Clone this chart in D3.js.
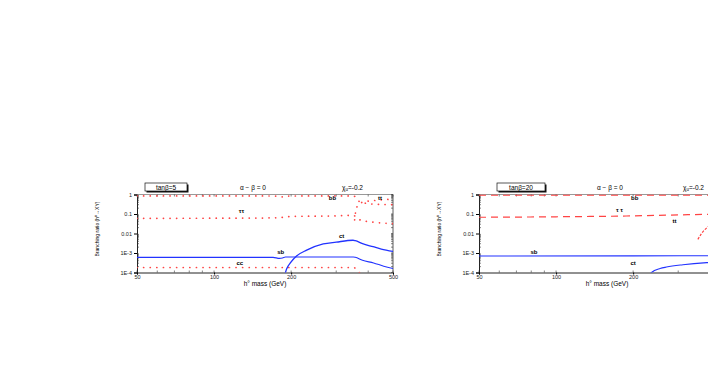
<!DOCTYPE html>
<html>
<head>
<meta charset="utf-8">
<script src="https://cdn.jsdelivr.net/npm/d3@7"></script>
<style>
body { margin: 0; background: #fff; }
svg { display: block; font-family: "Liberation Sans", Arial, sans-serif; }
</style>
</head>
<body>
<script>
// tick labels
var xTicks = [50, 100, 200, 500];
var xMinor = [60, 70, 80, 90, 300, 400];
var yTicks = [1, 0.1, 0.01, 1e-3, 1e-4];
var yTickLabels = ["1", "0.1", "0.01", "1E-3", "1E-4"];

// tan beta = 5 (masses in GeV, branching ratios)
var bb5M  = [50, 100, 150, 175, 185, 195, 250, 300, 350, 354, 360, 368, 385, 420, 500];
var bb5   = [0.85, 0.85, 0.85, 0.82, 0.75, 0.83, 0.85, 0.85, 0.85, 0.8, 0.6, 0.45, 0.37, 0.32, 0.3];
var tt5M  = [354, 358, 366, 385, 430, 500];
var tt5   = [0.05, 0.15, 0.3, 0.42, 0.5, 0.58];
var tau5M = [50, 150, 180, 200, 300, 350, 354, 362, 375, 420, 500];
var tau5  = [0.06, 0.062, 0.065, 0.075, 0.08, 0.085, 0.08, 0.06, 0.048, 0.038, 0.032];
var cc5M  = [50, 200, 350, 355, 362, 372];
var cc5   = [1.8e-4, 1.8e-4, 1.8e-4, 1.7e-4, 1.3e-4, 0.9e-4];
var sb5M  = [50, 170, 180, 185, 190, 350, 356, 380, 420, 460, 500];
var sb5   = [6e-4, 6e-4, 5.3e-4, 5.5e-4, 6.2e-4, 6.2e-4, 6e-4, 4.2e-4, 3.1e-4, 2.1e-4, 1.6e-4];
var ct5M  = [188, 192, 200, 210, 230, 267, 300, 349, 356, 380, 418, 450, 500];
var ct5   = [6e-5, 1.5e-4, 3.5e-4, 7e-4, 1.4e-3, 2.9e-3, 3.6e-3, 4.5e-3, 4.3e-3, 3e-3, 2.1e-3, 1.6e-3, 1.2e-3];

// tan beta = 20
var bb20M  = [50, 200, 500];
var bb20   = [0.93, 0.93, 0.93];
var tau20M = [50, 100, 200, 300, 400, 500];
var tau20  = [0.068, 0.072, 0.08, 0.09, 0.096, 0.1];
var tt20M  = [358, 370, 392, 420, 500];
var tt20   = [5e-3, 1e-2, 0.022, 0.04, 0.07];
var sb20M  = [50, 200, 500];
var sb20   = [7e-4, 7.1e-4, 7.3e-4];
var ct20M  = [230, 236, 255, 270, 313, 388, 500];
var ct20   = [7e-5, 1e-4, 1.6e-4, 1.9e-4, 2.5e-4, 3.2e-4, 3.6e-4];

var width = 708, height = 382;
var svg = d3.select("body").append("svg")
	.attr("width", width)
	.attr("height", height);

var red = "#ff4444", blue = "#2233ff";

function zip(m, v) { return m.map(function (d, i) { return {m: d, v: v[i]}; }); }

function drawPanel(p) {
	var x = d3.scaleLog().domain([50, 500]).range([p.left, p.left + 256]);
	var y = d3.scaleLog().domain([1e-4, 1]).range([272.5, 194.5]);
	var g = svg.append("g");

	g.append("clipPath").attr("id", p.id)
		.append("rect")
		.attr("x", x(50)).attr("y", y(1))
		.attr("width", x(500) - x(50)).attr("height", y(1e-4) - y(1));

	// frame
	g.append("line").attr("x1", x(50)).attr("x2", x(500)).attr("y1", y(1)).attr("y2", y(1))
		.attr("stroke", "#999").attr("stroke-width", 1.2);
	g.append("line").attr("x1", x(500)).attr("x2", x(500)).attr("y1", y(1)).attr("y2", y(1e-4))
		.attr("stroke", "#333").attr("stroke-width", 0.8);

	var leftAxis = d3.axisLeft(y).tickValues(yTicks).tickSize(3).tickPadding(2)
		.tickFormat(function (d, i) { return yTickLabels[i]; });
	g.append("g").attr("transform", "translate(" + x(50) + ",0)").call(leftAxis)
		.call(function (a) {
			a.select(".domain").attr("stroke", "#222");
			a.selectAll("text").attr("font-size", "5.5px").attr("fill", "#222");
		});

	// only label ticks that fall inside the window
	var shown = xTicks.filter(function (d) { return x(d) < width - 4; });
	var bottomAxis = d3.axisBottom(x).tickValues(shown).tickSize(2).tickPadding(1).tickFormat(d3.format("d"));
	g.append("g").attr("transform", "translate(0," + y(1e-4) + ")").call(bottomAxis)
		.call(function (a) {
			a.select(".domain").attr("stroke", "#222");
			a.selectAll("text").attr("font-size", "5.5px").attr("fill", "#222");
		});

	// minor ticks, inside the frame
	var yMinor = [];
	[1e-4, 1e-3, 1e-2, 1e-1].forEach(function (b) {
		for (var k = 2; k < 10; k++) yMinor.push(b * k);
	});
	g.selectAll(".ymin").data(yMinor).enter().append("line")
		.attr("x1", x(50)).attr("x2", x(50) + 2)
		.attr("y1", function (d) { return y(d); }).attr("y2", function (d) { return y(d); })
		.attr("stroke", "#333").attr("stroke-width", 0.6);
	g.selectAll(".ymin2").data(yMinor.concat(yTicks)).enter().append("line")
		.attr("x1", x(500)).attr("x2", x(500) - 2)
		.attr("y1", function (d) { return y(d); }).attr("y2", function (d) { return y(d); })
		.attr("stroke", "#333").attr("stroke-width", 0.6);
	g.selectAll(".xmin").data(xMinor.concat(xTicks)).enter().append("line")
		.attr("x1", function (d) { return x(d); }).attr("x2", function (d) { return x(d); })
		.attr("y1", y(1e-4)).attr("y2", y(1e-4) - 2)
		.attr("stroke", "#333").attr("stroke-width", 0.6);
	g.selectAll(".xmin2").data(xMinor.concat(xTicks)).enter().append("line")
		.attr("x1", function (d) { return x(d); }).attr("x2", function (d) { return x(d); })
		.attr("y1", y(1)).attr("y2", y(1) + 2)
		.attr("stroke", "#333").attr("stroke-width", 0.6);

	var line = d3.line()
		.x(function (d) { return x(d.m); })
		.y(function (d) { return y(d.v); })
		.curve(d3.curveMonotoneX);

	var curves = g.append("g").attr("clip-path", "url(#" + p.id + ")");
	p.series.forEach(function (s) {
		curves.append("path")
			.datum(zip(s.m, s.v))
			.attr("d", line)
			.attr("fill", "none")
			.attr("stroke", s.color)
			.attr("stroke-width", s.w || 1)
			.attr("stroke-linecap", s.dots ? "round" : "butt")
			.attr("stroke-dasharray", s.dash || null);
	});

	// curve labels
	p.labels.forEach(function (l) {
		g.append("text")
			.attr("x", x(l.m)).attr("y", y(l.v))
			.attr("font-size", "6px").attr("font-weight", "bold")
			.attr("text-anchor", "middle")
			.text(l.t);
	});

	// header: tan beta box, alpha - beta, chi_u
	var bx = x(50) + p.boxDx, bw = p.boxW;
	g.append("rect").attr("x", bx + 1.5).attr("y", 184.5).attr("width", bw).attr("height", 8).attr("fill", "#111");
	g.append("rect").attr("x", bx).attr("y", 183).attr("width", bw).attr("height", 8)
		.attr("fill", "#fff").attr("stroke", "#111").attr("stroke-width", 0.7);
	g.append("text").attr("x", bx + bw / 2).attr("y", 189.6).attr("text-anchor", "middle")
		.attr("font-size", "6.5px").text(p.tan);
	g.append("text").attr("x", x(50) + p.abDx).attr("y", 189.5).attr("text-anchor", "middle")
		.attr("font-size", "6.5px").text("\u03b1 \u2212 \u03b2 = 0");
	var chi = g.append("text").attr("x", x(50) + p.chiDx).attr("y", 189.5).attr("font-size", "6.5px");
	chi.append("tspan").text("\u03c7");
	chi.append("tspan").attr("font-size", "4.5px").attr("dy", 1.5).text("u");
	chi.append("tspan").attr("dy", -1.5).text("=-0.2");

	// axis titles
	g.append("text").attr("x", (x(50) + x(500)) / 2).attr("y", 286).attr("text-anchor", "middle")
		.attr("font-size", "6.5px").text("h\u00b0 mass (GeV)");
	g.append("text").attr("transform", "translate(" + (x(50) - 38) + ",229) rotate(-90)")
		.attr("text-anchor", "middle").attr("font-size", "5px")
		.text("Branching ratio (h\u2070\u2192XY)");
}

drawPanel({
	id: "clip5", left: 137, tan: "tan\u03b2=5", boxDx: 8, boxW: 42, abDx: 116, chiDx: 205,
	series: [
		{m: bb5M, v: bb5, color: red, dash: "0.1,6.5", w: 1.7, dots: true},
		{m: tt5M, v: tt5, color: red, dash: "0.1,6.5", w: 1.7, dots: true},
		{m: tau5M, v: tau5, color: red, dash: "0.1,6.5", w: 1.7, dots: true},
		{m: cc5M, v: cc5, color: red, dash: "0.1,6.5", w: 1.7, dots: true},
		{m: sb5M, v: sb5, color: blue, w: 1.1},
		{m: ct5M, v: ct5, color: blue, w: 1.3}
	],
	labels: [
		{t: "bb", m: 290, v: 0.5}, {t: "tt", m: 445, v: 0.55}, {t: "\u03c4\u03c4", m: 128, v: 0.11},
		{t: "sb", m: 182, v: 9e-4}, {t: "ct", m: 315, v: 6.2e-3}, {t: "cc", m: 126, v: 2.3e-4}
	]
});

drawPanel({
	id: "clip20", left: 479, tan: "tan\u03b2=20", boxDx: 18, boxW: 48, abDx: 131, chiDx: 204,
	series: [
		{m: bb20M, v: bb20, color: red, dash: "7,5", w: 1.2},
		{m: tau20M, v: tau20, color: red, dash: "7,5", w: 1.2},
		{m: tt20M, v: tt20, color: red, dash: "2.5,1.5", w: 1.2},
		{m: sb20M, v: sb20, color: blue, w: 1.1},
		{m: ct20M, v: ct20, color: blue, w: 1.1}
	],
	labels: [
		{t: "bb", m: 203, v: 0.53}, {t: "\u03c4 \u03c4", m: 177, v: 0.13}, {t: "tt", m: 290, v: 0.035},
		{t: "sb", m: 82, v: 9e-4}, {t: "ct", m: 200, v: 2.3e-4}
	]
});
</script>
</body>
</html>
